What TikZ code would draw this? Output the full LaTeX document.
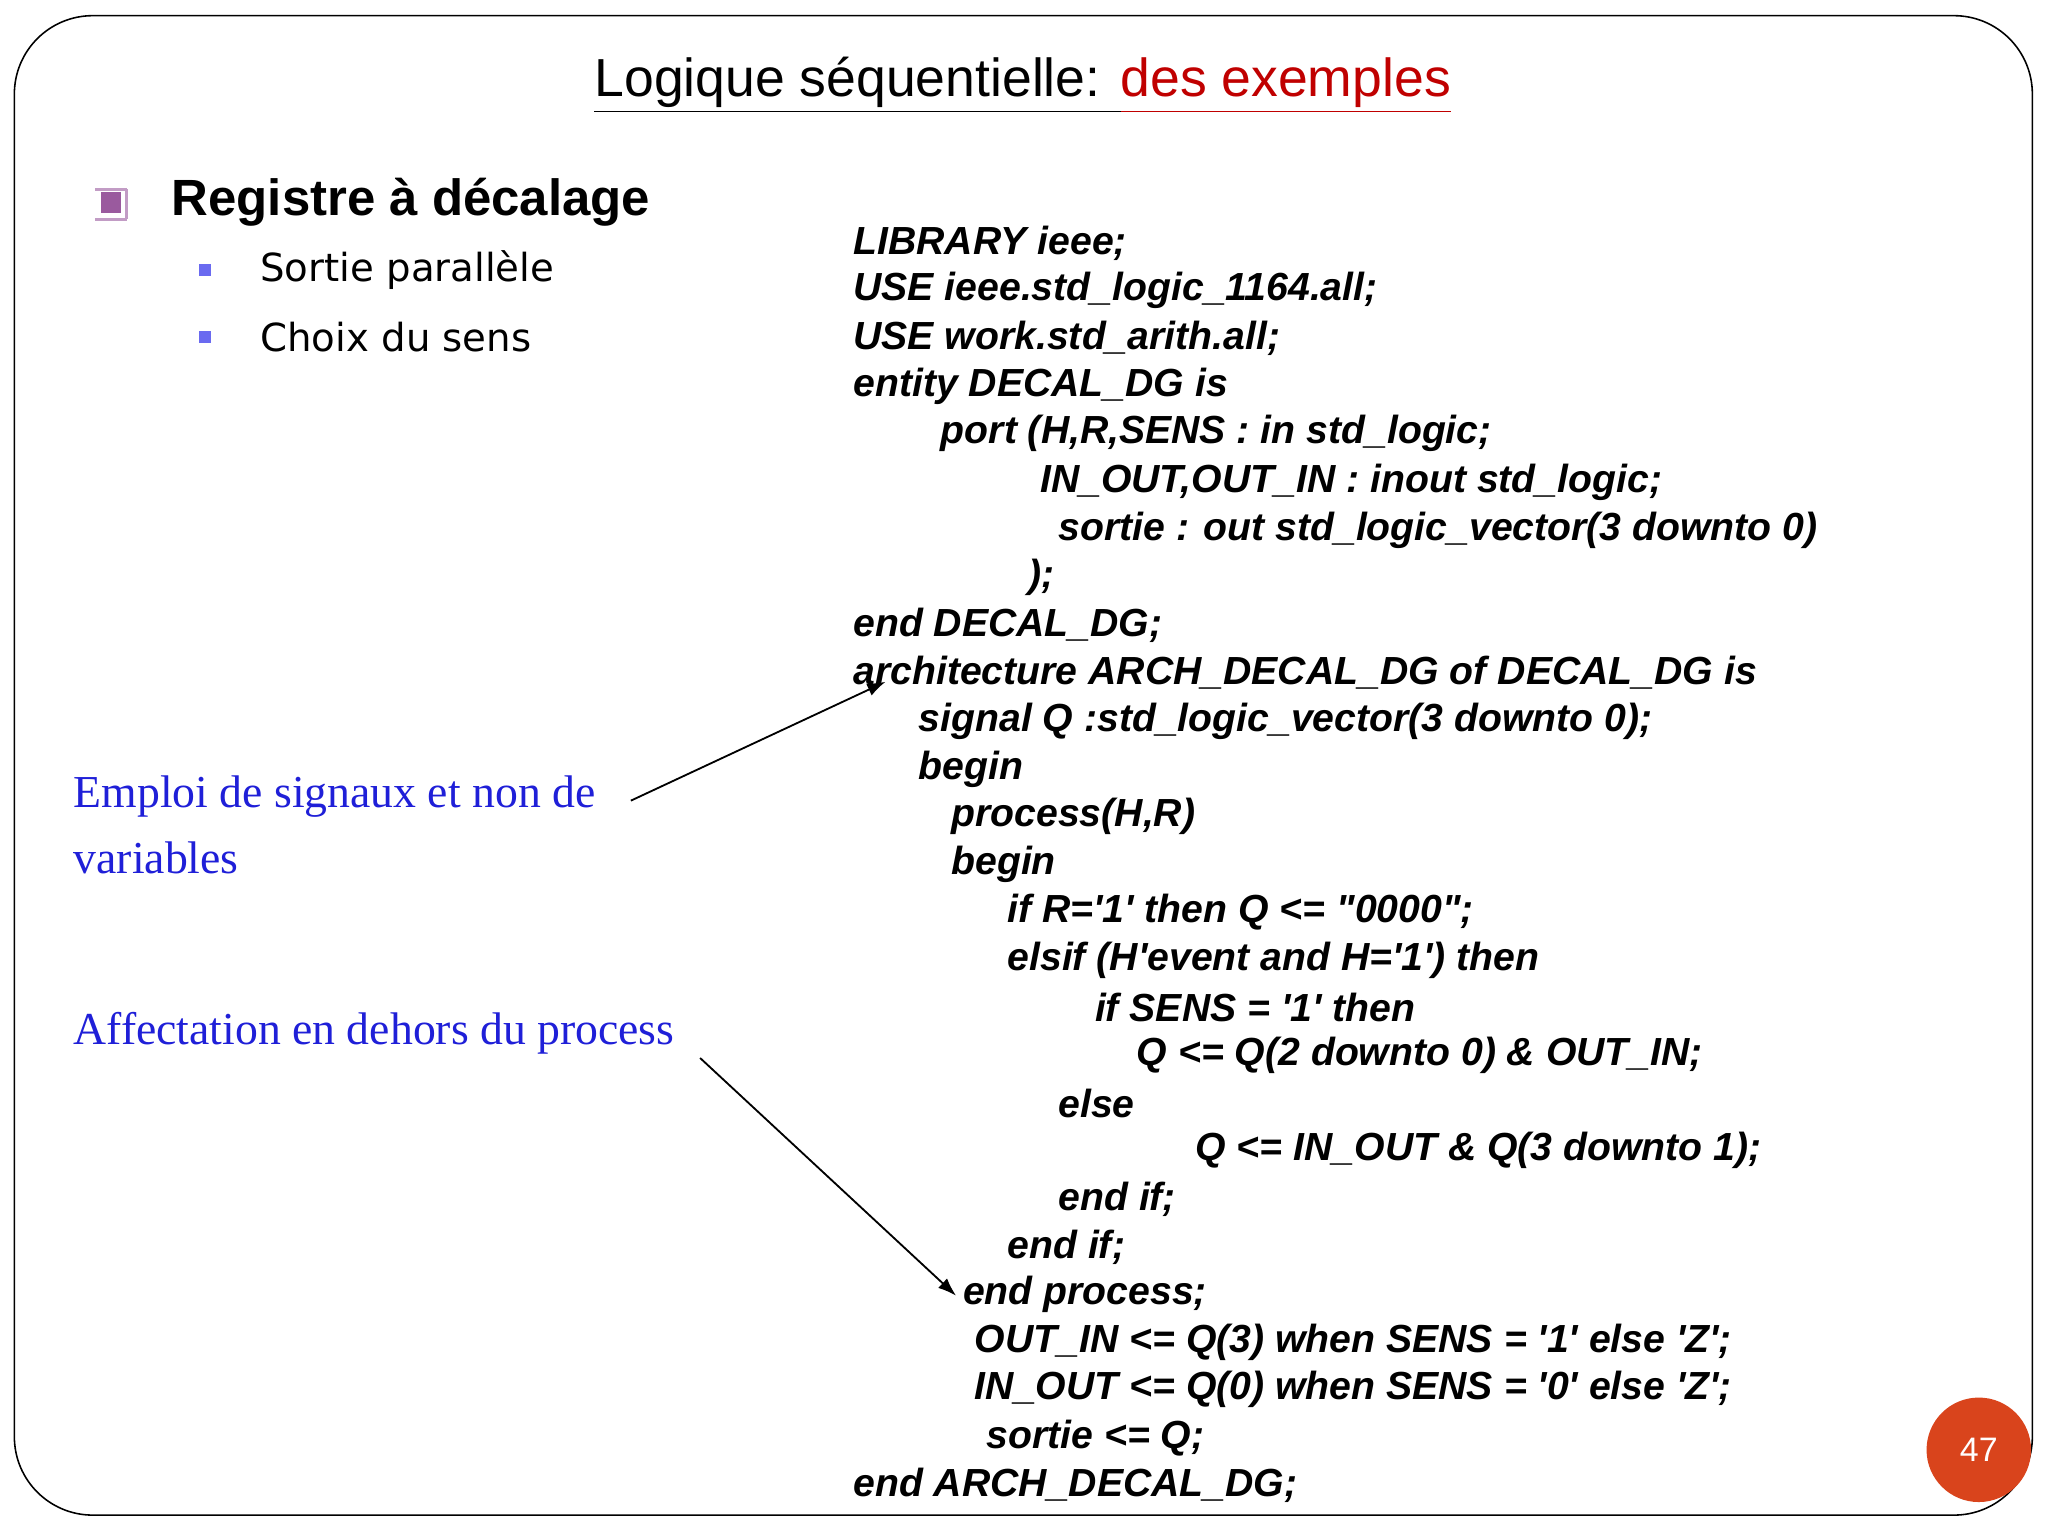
\documentclass[tikz,border=0pt]{standalone}
\usepackage{fontspec}
\setmainfont{Liberation Sans}
\newfontfamily\codef[Ligatures=NoCommon]{Liberation Sans}
\newfontfamily\serf{Liberation Serif}
\newfontfamily\tah{DejaVu Sans}
\usetikzlibrary{arrows.meta}
\definecolor{bluet}{HTML}{1F1FD8}
\definecolor{redt}{HTML}{C00000}
\definecolor{pnum}{HTML}{D9441C}
\definecolor{purp}{HTML}{9A5A9E}
\definecolor{bsq}{HTML}{6A6AF0}
\begin{document}
\begin{tikzpicture}[x=0.5pt,y=-0.5pt,
  code/.style={anchor=west,inner sep=0pt,font=\codef\fontsize{15}{18}\selectfont\bfseries\itshape},
  note/.style={anchor=west,inner sep=0pt,text=bluet,font=\serf\fontsize{17.5}{21}\selectfont},
  sub/.style={anchor=west,inner sep=0pt,font=\tah\fontsize{14.8}{17}\selectfont},
  arr/.style={-{Latex[length=7pt,width=5pt]},line width=0.7pt}]
\useasboundingbox (0,0) rectangle (1568,1176);
\fill[white] (0,0) rectangle (1568,1176);
\draw[line width=0.6pt,rounded corners=30pt] (11,12) rectangle (1556,1160);
\node[inner sep=0pt,font=\fontsize{20.5}{24}\selectfont] (title) at (783,65) {\underline{Logique séquentielle: }\textcolor{redt}{\underline{des exemples}}};
\node[fill=purp,minimum size=8pt,inner sep=0pt] (icon) at (85,155) {};
\draw[purp!60,line width=1pt] (73,145) -- (97,145) (97,145) -- (97,168) (73,168) -- (97,168);
\node[anchor=west,inner sep=0pt,font=\fontsize{19.5}{23}\selectfont\bfseries] (reg) at (131,155) {Registre à décalage};
\node[fill=bsq,minimum size=4.5pt,inner sep=0pt] (b1) at (157,207) {};
\node[fill=bsq,minimum size=4.5pt,inner sep=0pt] (b2) at (157,258) {};
\node[sub] (s1) at (199,207) {Sortie parallèle};
\node[sub] (s2) at (199,258) {Choix du sens};
\node[note] (n1) at (56,610) {Emploi de signaux et non de};
\node[note] (n1b) at (56,657) {variables};
\node[note] (n2) at (56,791) {Affectation en dehors du process};
\node[code] (c1) at (653,186) {LIBRARY ieee;};
\node[code] (c2) at (653,222) {USE ieee.std\_logic\_1164.all;};
\node[code] (c3) at (653,259) {USE work.std\_arith.all;};
\node[code] (c4) at (653,296) {entity DECAL\_DG is};
\node[code] (c5) at (720,332) {port (H,R,SENS : in std\_logic;};
\node[code] (c6) at (796,369) {IN\_OUT,OUT\_IN : inout std\_logic;};
\node[code] (c7) at (810,406) {sortie : out std\_logic\_vector(3 downto 0)};
\node[code] (c8) at (787,442) {);};
\node[code] (c9) at (653,479) {end DECAL\_DG;};
\node[code] (c10) at (653,515) {architecture ARCH\_DECAL\_DG of DECAL\_DG is};
\node[code] (c11) at (703,552) {signal Q :std\_logic\_vector(3 downto 0);};
\node[code] (c12) at (703,589) {begin};
\node[code] (c13) at (728,625) {process(H,R)};
\node[code] (c14) at (728,662) {begin};
\node[code] (c15) at (771,698) {if R='1' then Q <= "0000";};
\node[code] (c16) at (771,735) {elsif (H'event and H='1') then};
\node[code] (c17) at (838,771) {if SENS = '1' then};
\node[code] (c18) at (870,808) {Q <= Q(2 downto 0) \& OUT\_IN;};
\node[code] (c19) at (810,845) {else};
\node[code] (c20) at (915,881) {Q <= IN\_OUT \& Q(3 downto 1);};
\node[code] (c21) at (810,918) {end if;};
\node[code] (c22) at (771,955) {end if;};
\node[code] (c23) at (737,991) {end process;};
\node[code] (c24) at (746,1028) {OUT\_IN <= Q(3) when SENS = '1' else 'Z';};
\node[code] (c25) at (746,1064) {IN\_OUT <= Q(0) when SENS = '0' else 'Z';};
\node[code] (c26) at (755,1101) {sortie <= Q;};
\node[code] (c27) at (653,1137) {end ARCH\_DECAL\_DG;};
\coordinate (a1s) at (483,613);
\coordinate (a1e) at (678,522);
\coordinate (a2s) at (536,810);
\coordinate (a2e) at (732,992);
\draw[arr] (a1s) -- (a1e);
\draw[arr] (a2s) -- (a2e);
\node[circle,fill=pnum,minimum size=40pt,inner sep=0pt,text=white,font=\fontsize{13}{15}\selectfont] (pg) at (1515,1110) {47};
\end{tikzpicture}
\end{document}
